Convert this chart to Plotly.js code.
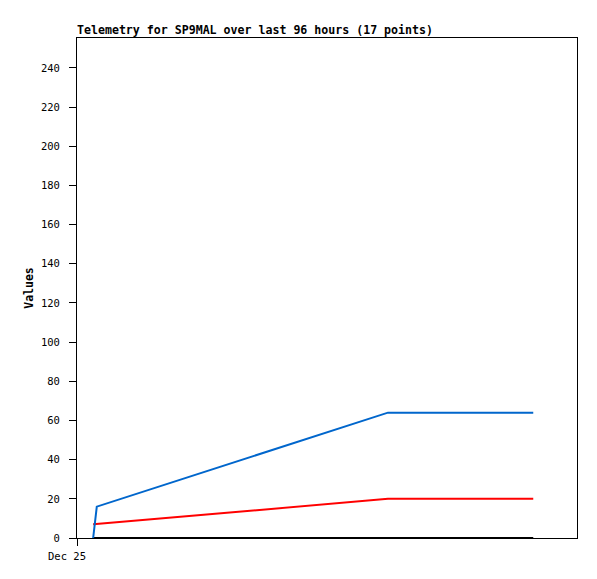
<!DOCTYPE html>
<html>
<head>
<meta charset="utf-8">
<script src="https://cdn.plot.ly/plotly-3.0.1.min.js"></script>
<style>html,body{margin:0;padding:0;background:#fff;}#chart{width:597px;height:579px;}</style>
</head>
<body>
<div id="chart"></div>
<script>
// hours since Dec 25 00:00
const blueHours = [3.1, 3.8, 59.7, 87.6];
const blueValues = [0, 16, 64, 64];
const redHours = [3.1, 59.7, 87.6];
const redValues = [7, 20, 20];
const blackHours = [3.1, 87.6];
const blackValues = [0, 0];
const xTickVals = [0];
const xTickText = ["Dec 25"];
const yTickVals = [0, 20, 40, 60, 80, 100, 120, 140, 160, 180, 200, 220, 240];

const mono = "DejaVu Sans Mono, Liberation Mono, monospace";

const traces = [
  {x: blackHours, y: blackValues, mode: "lines", line: {color: "#000000", width: 2}, hoverinfo: "skip"},
  {x: redHours, y: redValues, mode: "lines", line: {color: "#ff0000", width: 2}, hoverinfo: "skip"},
  {x: blueHours, y: blueValues, mode: "lines", line: {color: "#0066cc", width: 2}, hoverinfo: "skip"}
];

const layout = {
  width: 597, height: 579,
  margin: {l: 77, r: 20, t: 38, b: 41},
  paper_bgcolor: "#ffffff", plot_bgcolor: "#ffffff",
  showlegend: false,
  title: {
    text: "<b>Telemetry for SP9MAL over last 96 hours (17 points)</b>",
    font: {family: mono, size: 11.6, color: "#000"},
    xref: "paper", x: 0, xanchor: "left",
    yref: "container", y: 1 - 30/579, yanchor: "middle"
  },
  xaxis: {
    range: [0, 96], showgrid: false, zeroline: false,
    showline: true, linecolor: "#000", linewidth: 1, mirror: true,
    tickmode: "array", tickvals: xTickVals, ticktext: xTickText,
    ticks: "outside", ticklen: 7, tickcolor: "#000",
    ticklabelshift: -10, ticklabelstandoff: 1,
    tickfont: {family: mono, size: 10.5, color: "#000"}
  },
  yaxis: {
    range: [0, 255.3], showgrid: false, zeroline: false,
    showline: true, linecolor: "#000", linewidth: 1, mirror: true,
    tickmode: "array", tickvals: yTickVals,
    ticks: "outside", ticklen: 7, tickcolor: "#000",
    ticklabelstandoff: 7,
    tickfont: {family: mono, size: 10.5, color: "#000"},
    title: {text: "<b>Values</b>", font: {family: mono, size: 11.5, color: "#000"}, standoff: 4}
  }
};

Plotly.newPlot("chart", traces, layout, {staticPlot: true, displayModeBar: false});
</script>
</body>
</html>
